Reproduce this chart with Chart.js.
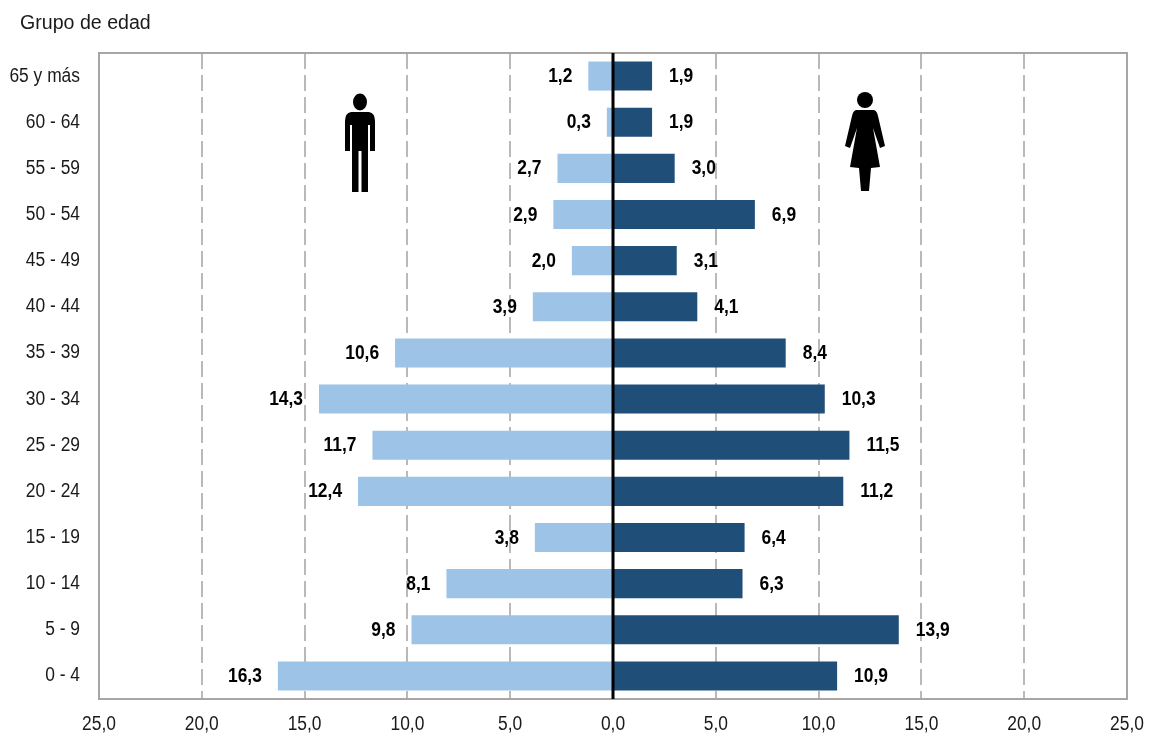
<!DOCTYPE html>
<html>
<head>
<meta charset="utf-8">
<script src="https://cdn.jsdelivr.net/npm/chart.js@4"></script>
<style>
  html, body { margin: 0; background: #fff; }
  #wrap { width: 1150px; height: 737px; }
</style>
</head>
<body>
<div id="wrap"><canvas id="c"></canvas></div>
<script>
const grupos = ['65 y más', '60 - 64', '55 - 59', '50 - 54', '45 - 49', '40 - 44', '35 - 39', '30 - 34', '25 - 29', '20 - 24', '15 - 19', '10 - 14', '5 - 9', '0 - 4'];
const hombres = [1.2, 0.3, 2.7, 2.9, 2.0, 3.9, 10.6, 14.3, 11.7, 12.4, 3.8, 8.1, 9.8, 16.3];
const mujeres = [1.9, 1.9, 3.0, 6.9, 3.1, 4.1, 8.4, 10.3, 11.5, 11.2, 6.4, 6.3, 13.9, 10.9];
const tituloEje = 'Grupo de edad';

const FUENTE = "'Liberation Sans', Arial, sans-serif";
const ANGOSTO = 0.87; // no hay Arial Narrow instalada, se comprime a mano
const fmt = v => Math.abs(v).toFixed(1).replace('.', ',');

function texto(ctx, s, x, y, align, sx) {
  ctx.save();
  ctx.translate(x, y);
  ctx.scale(sx || ANGOSTO, 1);
  ctx.textAlign = align;
  ctx.textBaseline = 'middle';
  ctx.fillText(s, 0, 0);
  ctx.restore();
}

function dibujarHombre(ctx) {
  ctx.beginPath();
  ctx.ellipse(360, 102, 7, 8.5, 0, 0, Math.PI * 2);
  ctx.fill();
  ctx.beginPath();
  ctx.moveTo(351, 112);
  ctx.lineTo(369, 112);
  ctx.quadraticCurveTo(375, 113, 375, 121);
  ctx.lineTo(375, 151);
  ctx.lineTo(370, 151);
  ctx.lineTo(370, 125);
  ctx.lineTo(368, 125);
  ctx.lineTo(368, 192);
  ctx.lineTo(361.5, 192);
  ctx.lineTo(361.5, 151);
  ctx.lineTo(358.5, 151);
  ctx.lineTo(358.5, 192);
  ctx.lineTo(352, 192);
  ctx.lineTo(352, 125);
  ctx.lineTo(350, 125);
  ctx.lineTo(350, 151);
  ctx.lineTo(345, 151);
  ctx.lineTo(345, 121);
  ctx.quadraticCurveTo(345, 113, 351, 112);
  ctx.fill();
}

function dibujarMujer(ctx) {
  ctx.beginPath();
  ctx.arc(865, 100, 8, 0, Math.PI * 2);
  ctx.fill();
  ctx.beginPath();
  ctx.moveTo(856, 110);
  ctx.lineTo(874, 110);
  ctx.quadraticCurveTo(877, 111, 878, 116);
  ctx.lineTo(885, 146);
  ctx.lineTo(880, 148);
  ctx.lineTo(873, 128);
  ctx.lineTo(880, 167);
  ctx.lineTo(871, 168);
  ctx.lineTo(869, 191);
  ctx.lineTo(861, 191);
  ctx.lineTo(859, 168);
  ctx.lineTo(850, 167);
  ctx.lineTo(857, 128);
  ctx.lineTo(850, 148);
  ctx.lineTo(845, 146);
  ctx.lineTo(852, 116);
  ctx.quadraticCurveTo(853, 111, 856, 110);
  ctx.fill();
}

const extras = {
  id: 'extras',
  afterDatasetsDraw(chart) {
    const { ctx, chartArea: a, scales: { x, y } } = chart;
    ctx.save();
    // marco del area de trazado
    ctx.strokeStyle = '#aaa5a5';
    ctx.lineWidth = 2;
    ctx.strokeRect(a.left, a.top, a.right - a.left, a.bottom - a.top);
    // linea del cero
    ctx.strokeStyle = '#000';
    ctx.lineWidth = 3;
    ctx.beginPath();
    ctx.moveTo(x.getPixelForValue(0), a.top);
    ctx.lineTo(x.getPixelForValue(0), a.bottom);
    ctx.stroke();
    // etiquetas de valor
    ctx.fillStyle = '#000';
    ctx.font = 'bold 20px ' + FUENTE;
    grupos.forEach((g, i) => {
      const py = y.getPixelForValue(i) + 0.5;
      texto(ctx, fmt(hombres[i]), x.getPixelForValue(-hombres[i]) - 16, py, 'right');
      texto(ctx, fmt(mujeres[i]), x.getPixelForValue(mujeres[i]) + 17, py, 'left');
    });
    // rotulos de los ejes, comprimidos igual que el original
    ctx.font = '20px ' + FUENTE;
    ctx.fillStyle = '#1a1a1a';
    grupos.forEach((g, i) => texto(ctx, g, 80, y.getPixelForValue(i), 'right'));
    x.ticks.forEach((t, i) => texto(ctx, fmt(t.value), x.getPixelForTick(i), 724, 'center'));
    texto(ctx, tituloEje, 20, 23, 'left', 0.98);
    ctx.fillStyle = '#000';
    dibujarHombre(ctx);
    dibujarMujer(ctx);
    ctx.restore();
  }
};

new Chart(document.getElementById('c'), {
  type: 'bar',
  data: {
    labels: grupos,
    datasets: [
      { label: 'Hombres', data: hombres.map(v => -v), backgroundColor: '#9dc3e6' },
      { label: 'Mujeres', data: mujeres, backgroundColor: '#1f4e79' },
    ],
  },
  options: {
    indexAxis: 'y',
    responsive: true,
    maintainAspectRatio: false,
    animation: false,
    categoryPercentage: 0.63,
    barPercentage: 1,
    layout: { padding: { top: 53, right: 23, left: 0, bottom: 0 } },
    plugins: { legend: { display: false }, tooltip: { enabled: false } },
    scales: {
      x: {
        stacked: true,
        min: -25,
        max: 25,
        afterFit: s => { s.height = 38; },
        border: { display: false, dash: [16, 6] },
        grid: {
          drawTicks: false,
          color: c => (c.tick.value === 0 || Math.abs(c.tick.value) === 25 ? 'transparent' : '#bcb8b8'),
          lineWidth: 2,
        },
        ticks: { stepSize: 5, display: false },
      },
      y: {
        stacked: true,
        afterFit: s => { s.width = 99; },
        border: { display: false },
        grid: { display: false },
        ticks: { display: false, autoSkip: false },
      },
    },
  },
  plugins: [extras],
});
</script>
</body>
</html>
